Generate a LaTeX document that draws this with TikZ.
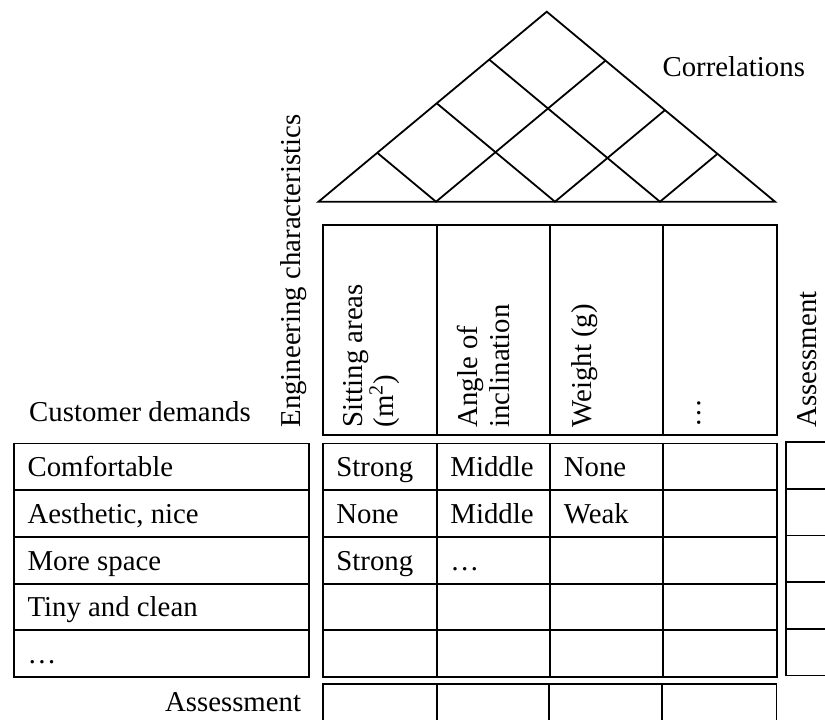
\documentclass[tikz,border=0pt]{standalone}
\usepackage{fontspec}
\setmainfont{Liberation Serif}
\usetikzlibrary{calc}
\begin{document}
\begin{tikzpicture}[x=0.5pt,y=-0.5pt,line width=0.9pt,
  txt/.style={anchor=base west,inner sep=0pt,font=\fontsize{14.4}{17}\selectfont},
  vtxt/.style={txt,rotate=90}]
  \clip (0,0) rectangle (825,719);

  % roof
  \coordinate (rl) at (318.5,201.7);
  \coordinate (rr) at (775,201.7);
  \coordinate (rt) at (546.75,11.7);
  \draw (rl) -- (rt) -- (rr) -- cycle;
  \foreach \t in {0.2574,0.518,0.748}
    \draw ($(rl)!\t!(rt)$) -- ($(rl)!\t!(rr)$) -- ($(rr)!1-\t!(rt)$);
  \node[txt] (corr) at (661.7,76) {Correlations};

  % header
  \draw (323.3,225) rectangle (777.3,435);
  \foreach \x in {436.7,550,663.3} \draw (\x,225) -- (\x,435);
  \node[vtxt] (eng) at (300.7,428.3) {Engineering characteristics};
  \node[vtxt] (sit1) at (362.5,428.3) {Sitting areas};
  \node[vtxt] (sit2) at (393,428.3) {(m\textsuperscript{2})};
  \node[vtxt] (ang1) at (477,428.3) {Angle of};
  \node[vtxt] (ang2) at (509,428.3) {inclination};
  \node[vtxt] (wgt) at (591.7,428.3) {Weight (g)};
  \node[vtxt] (more) at (700,428.3) {…};
  \node[vtxt] (assr) at (816.7,428.3) {Assessment};
  \node[txt] (cust) at (28.3,421.7) {Customer demands};

  % customer demands
  \draw (14,443.5) rectangle (309,677);
  \foreach \i in {1,...,4} \draw (14,443.5+46.7*\i) -- (309,443.5+46.7*\i);
  \node[txt] (dem1) at (26.7,476.6) {Comfortable};
  \node[txt] (dem2) at (26.7,523.4) {Aesthetic, nice};
  \node[txt] (dem3) at (26.7,570.1) {More space};
  \node[txt] (dem4) at (26.7,616.8) {Tiny and clean};
  \node[txt] (dem5) at (26.7,663.5) {…};

  % relations
  \draw (323.3,443.5) rectangle (777.3,677);
  \foreach \i in {1,...,4} \draw (323.3,443.5+46.7*\i) -- (777.3,443.5+46.7*\i);
  \foreach \x in {436.7,550,663.3} \draw (\x,443.5) -- (\x,677);
  \node[txt] (rel11) at (335.5,476.6) {Strong};
  \node[txt] (rel12) at (449.5,476.6) {Middle};
  \node[txt] (rel13) at (563,476.6) {None};
  \node[txt] (rel21) at (335.5,523.4) {None};
  \node[txt] (rel22) at (449.5,523.4) {Middle};
  \node[txt] (rel23) at (563,523.4) {Weak};
  \node[txt] (rel31) at (335.5,570.1) {Strong};
  \node[txt] (rel32) at (449.5,570.1) {…};

  % assessment column
  \draw (786,442) rectangle (850,675.5);
  \foreach \i in {1,...,4} \draw (786,442+46.7*\i) -- (850,442+46.7*\i);

  % assessment row
  \draw (323.3,730) -- (323.3,684.3) -- (776.5,684.3) -- (776.5,730);
  \foreach \x in {436.7,549.3,662.3} \draw (\x,684.3) -- (\x,730);
  \node[txt,anchor=base east] (assb) at (302,711) {Assessment};
\end{tikzpicture}
\end{document}
